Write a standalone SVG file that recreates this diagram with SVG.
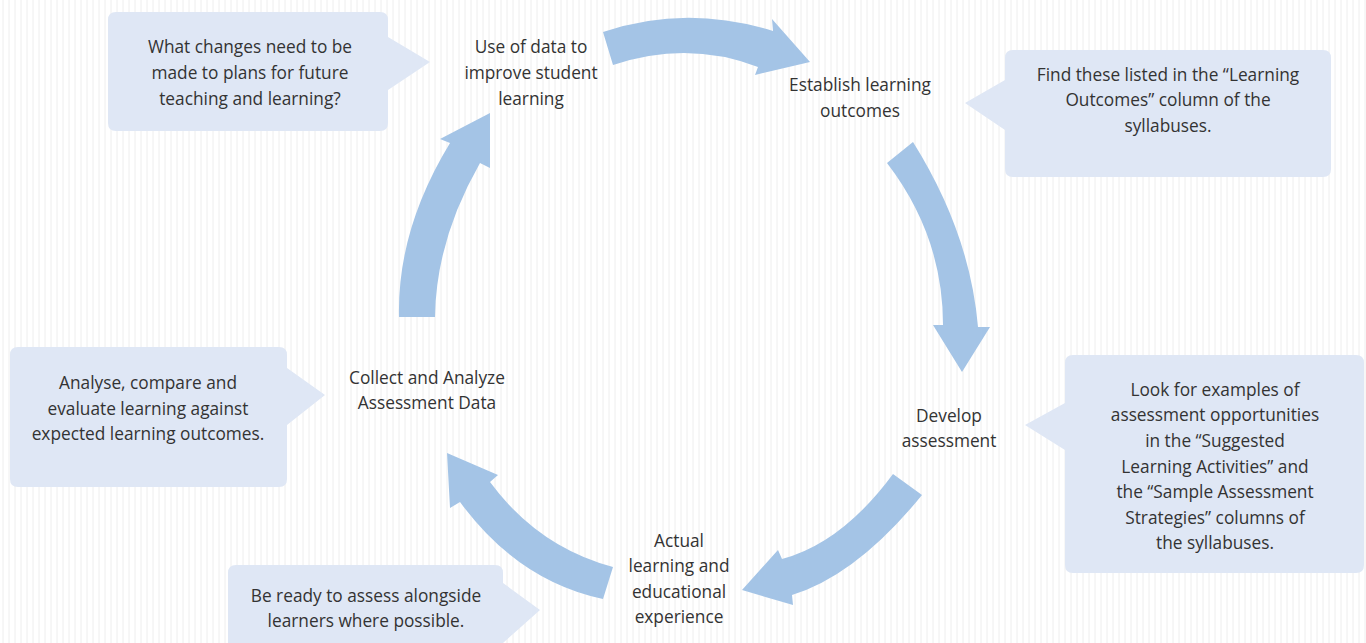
<svg xmlns="http://www.w3.org/2000/svg" width="1366" height="643" viewBox="0 0 1366 643">
<defs>
<pattern id="bgv" patternUnits="userSpaceOnUse" width="6" height="6">
<line x1="3" y1="0" x2="3" y2="6" stroke="#eeeeee" stroke-width="1"/>
</pattern>
</defs>
<style>
.arrow{fill:#a4c4e6;}
.box{fill:#dfe7f5;}
text{font-family:"Open Sans","Noto Sans",sans-serif;font-size:17.3px;fill:#333333;text-anchor:middle;}
</style>
<rect x="0" y="0" width="1366" height="643" fill="#ffffff"/>
<rect x="0" y="0" width="1366" height="643" fill="url(#bgv)"/>
<g id="connectors">
<path class="arrow" d="M603,32 Q686,4 773,31 L772,19 L810,62 L755,75 L758,67 Q688,40 613,65 Z"/>
<path class="arrow" d="M913,142 Q970,233 978,327 L990,327 L962,372 L933,325 L943,325 Q943,236 887,163 Z"/>
<path class="arrow" d="M893,474 L922,495 Q857,575 792,595 L793,605 L742,590 L778,550 L782,559 Q842,543 893,474 Z"/>
<path class="arrow" d="M613,567 L603,599 Q518,581 460,502 L450,508 L447,453 L498,475 L490,482 Q538,547 613,567 Z"/>
<path class="arrow" d="M399,317 Q397,230 450,143 L440,139 L490,113 L490,168 L480,163 Q436,240 435,317 Z"/>
</g>
<g id="node-use-data">
<text x="531" y="53">Use of data to</text>
<text x="531" y="79">improve student</text>
<text x="531" y="105">learning</text>
</g>
<g id="node-establish">
<text x="860" y="91">Establish learning</text>
<text x="860" y="117">outcomes</text>
</g>
<g id="node-develop">
<text x="949" y="422">Develop</text>
<text x="949" y="447">assessment</text>
</g>
<g id="node-actual">
<text x="679" y="547">Actual</text>
<text x="679" y="572">learning and</text>
<text x="679" y="598">educational</text>
<text x="679" y="623">experience</text>
</g>
<g id="node-collect">
<text x="427" y="384">Collect and Analyze</text>
<text x="427" y="409">Assessment Data</text>
</g>
<g id="callout-changes">
<path class="box" d="M116,12 H380 Q388,12 388,20 V37 L430,62 L388,90 V123 Q388,131 380,131 H116 Q108,131 108,123 V20 Q108,12 116,12 Z"/>
<text x="250" y="53">What changes need to be</text>
<text x="250" y="79">made to plans for future</text>
<text x="250" y="105">teaching and learning?</text>
</g>
<g id="callout-find">
<path class="box" d="M1013,50 H1323 Q1331,50 1331,58 V169 Q1331,177 1323,177 H1013 Q1005,177 1005,169 V130 L965,103 L1005,80 V58 Q1005,50 1013,50 Z"/>
<text x="1168" y="81">Find these listed in the “Learning</text>
<text x="1168" y="106">Outcomes” column of the</text>
<text x="1168" y="132">syllabuses.</text>
</g>
<g id="callout-look">
<path class="box" d="M1073,355 H1356 Q1364,355 1364,363 V565 Q1364,573 1356,573 H1073 Q1065,573 1065,565 V450 L1025,425 L1065,403 V363 Q1065,355 1073,355 Z"/>
<text x="1215" y="396">Look for examples of</text>
<text x="1215" y="421">assessment opportunities</text>
<text x="1215" y="447">in the “Suggested</text>
<text x="1215" y="473">Learning Activities” and</text>
<text x="1215" y="498">the “Sample Assessment</text>
<text x="1215" y="524">Strategies” columns of</text>
<text x="1215" y="549">the syllabuses.</text>
</g>
<g id="callout-ready">
<path class="box" d="M236,565 H495 Q503,565 503,573 V583 L540,610 L503,643 V650 H228 V573 Q228,565 236,565 Z"/>
<text x="366" y="602">Be ready to assess alongside</text>
<text x="366" y="627">learners where possible.</text>
</g>
<g id="callout-analyse">
<path class="box" d="M18,347 H279 Q287,347 287,355 V368 L325,395 L287,425 V479 Q287,487 279,487 H18 Q10,487 10,479 V355 Q10,347 18,347 Z"/>
<text x="148" y="389">Analyse, compare and</text>
<text x="148" y="415">evaluate learning against</text>
<text x="148" y="440">expected learning outcomes.</text>
</g>
</svg>
